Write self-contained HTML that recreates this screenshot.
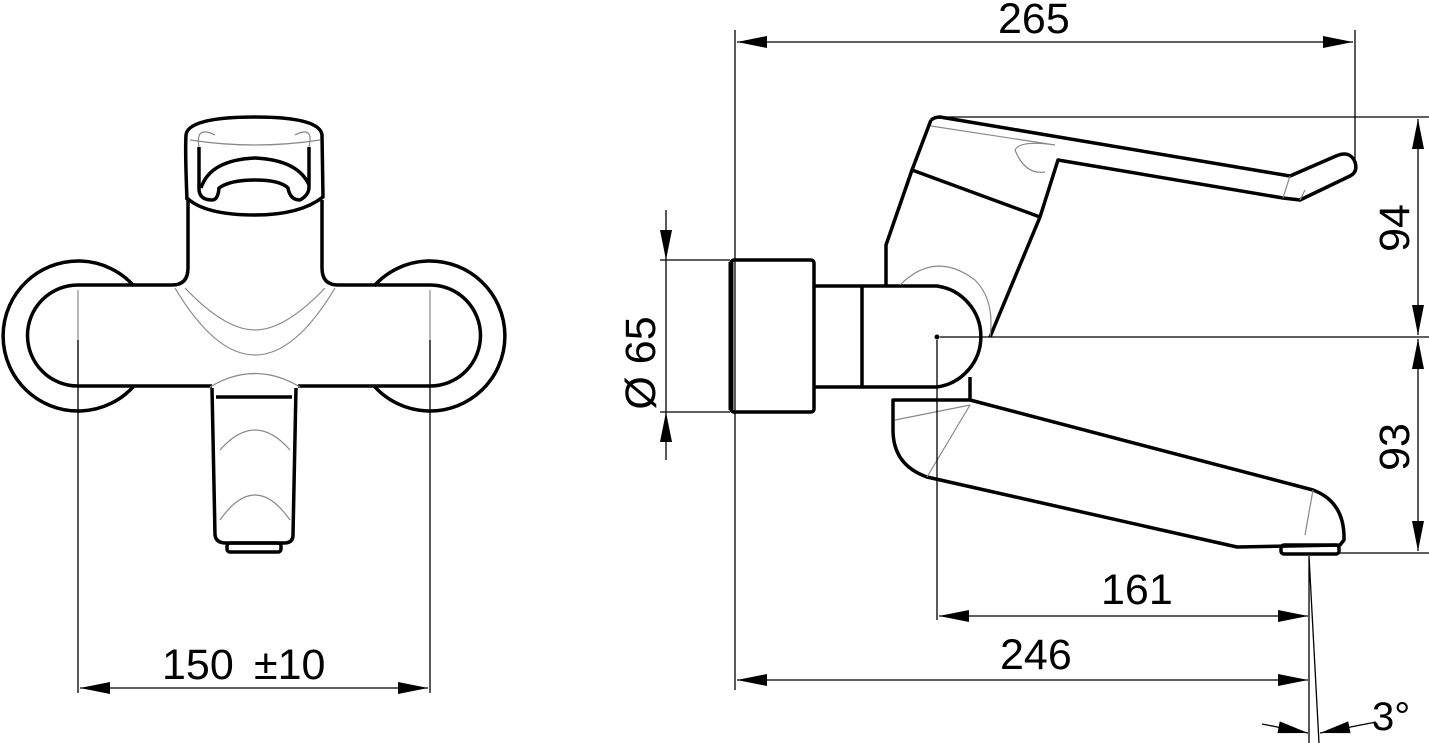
<!DOCTYPE html>
<html><head><style>html,body{margin:0;padding:0;background:#fff}svg{display:block}</style></head>
<body>
<svg width="1429" height="743" viewBox="0 0 1429 743" xmlns="http://www.w3.org/2000/svg" font-family="Liberation Sans, sans-serif">
<defs>
<marker id="a" viewBox="0 0 30 12" refX="30" refY="6" markerWidth="30" markerHeight="12" markerUnits="userSpaceOnUse" orient="auto-start-reverse"><path d="M0,0L30,6L0,12z" fill="#000"/></marker>
</defs>
<g fill="none" stroke="#000" stroke-width="3.5" stroke-linejoin="round">
<path d="M134,286 A75,75 0 1 0 134,386" />
<path d="M374,286 A75,75 0 1 1 374,386" />
<path d="M78,285 H172 Q188,285 188,268 V200 M322,200 V268 Q322,285 338,285 H430 A50.5,50.5 0 0 1 430,386 H298 M212,386 H78 A50.5,50.5 0 0 1 78,285"/>
<path d="M187,200 Q185,150 186,135 Q188,117 255,117 Q320,117 322,135 L323,197 Q300,215 255,215 Q205,215 187,198"/>
<path d="M199,147 V190 Q200,200 212,200 Q218,200 219,188 Q230,180 255,180 Q280,180 288,188 Q290,200 300,200 Q309,195 309,187 V147"/>
<path d="M201,188 Q210,160 255,158 Q298,160 309,185"/>
<path d="M212,388 L215,535 Q216,543 226,543 H284 Q293,543 293,535 L296,388"/>
<path d="M216,397 H292"/>
<rect x="227" y="543" width="54" height="9" rx="3"/>
<rect x="731" y="260" width="83" height="152" rx="3"/>
<path d="M731,262 V410" stroke-width="5"/>
<path d="M814,286 H937 A51,51 0 0 1 937,387 H814 M862,286 V387"/>
<path d="M931,120 Q935,117 940,117 L1290,176 L1336,156 Q1350,150 1355,162 Q1358,172 1350,176 L1300,200 L1283,198 L1058,160 L1040,217 L990,337"/>
<path d="M931,120 L912,170 L886,245 V286 M912,170 L1040,217"/>
<path d="M970,377 V400 L1313,490 Q1345,502 1344,540 L1340,545 L1237,547 L927,477 Q893,465 893,430 V400 H970"/>
<rect x="1281" y="545" width="58" height="9" rx="3"/>
</g>
<g fill="none" stroke="#888" stroke-width="1.2">
<path d="M175,288 Q215,355 255,355 Q295,355 335,288 M185,288 Q225,330 255,330 Q285,330 325,288"/>
<path d="M210,387 Q255,360 300,387 M220,450 Q255,410 290,450 M220,520 Q255,470 290,520"/>
<path d="M78,290 V385 M430,290 V385"/>
<path d="M199,147 Q195,125 215,135 M309,147 Q314,125 295,135 M190,140 Q255,150 320,140"/>
<path d="M931,126 L1055,145 Q1020,140 1015,150 Q1025,175 1045,172"/>
<path d="M900,285 Q935,250 975,280 Q995,300 990,337"/>
<path d="M895,420 L970,405 M927,477 L970,405 M1305,535 L1313,490 M1283,198 L1290,176 M1300,200 L1305,190"/>
</g>
<g stroke="#000" stroke-width="1.3" fill="none">
<path d="M78,340 V693 M430,340 V693"/>
<path d="M80,688 H428" marker-start="url(#a)" marker-end="url(#a)"/>
<path d="M735,30 V690 M1355,30 V160"/>
<path d="M737,42 H1353" marker-start="url(#a)" marker-end="url(#a)"/>
<path d="M940,117 H1430 M940,337 H1430 M1340,553 H1430"/>
<path d="M1418,119 V335" marker-start="url(#a)" marker-end="url(#a)"/>
<path d="M1418,339 V551" marker-start="url(#a)" marker-end="url(#a)"/>
<path d="M660,260 H730 M660,412 H730"/>
<path d="M666,210 V260" marker-end="url(#a)"/>
<path d="M666,460 V412" marker-end="url(#a)"/>
<path d="M666,260 V412"/>
<path d="M937,340 V620"/>
<path d="M939,616 H1308" marker-start="url(#a)" marker-end="url(#a)"/>
<path d="M737,680 H1308" marker-start="url(#a)" marker-end="url(#a)"/>
<path d="M1309,556 V743 M1309,556 L1319,743"/>
<path d="M1262,724 L1308,733" marker-end="url(#a)"/>
<path d="M1376,722 L1320,733" marker-end="url(#a)"/>
</g>
<circle cx="937" cy="337" r="2.5"/>
<g font-size="43" fill="#000">
<text x="162" y="679">150</text>
<text x="254" y="679">±10</text>
<text x="998" y="33">265</text>
<text x="1101" y="604">161</text>
<text x="1000" y="669">246</text>
<text x="1372" y="730" font-size="40">3°</text>
<text transform="translate(1409,228) rotate(-90)" text-anchor="middle">94</text>
<text transform="translate(1409,447) rotate(-90)" text-anchor="middle">93</text>
<text transform="translate(655,363) rotate(-90)" text-anchor="middle">Ø 65</text>
</g>
</svg>
</body></html>
